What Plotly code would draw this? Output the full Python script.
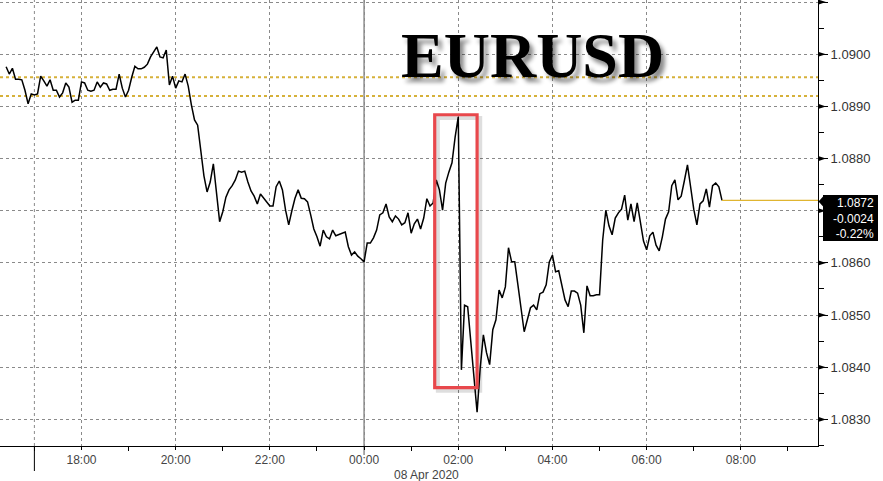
import pandas as pd
import plotly.graph_objects as go

# ---------------- data ----------------
start_time = "2020-04-07 16:24"
sample_freq = "4min"
prices = [
    1.08976, 1.08962, 1.08973, 1.08952, 1.08952, 1.08951, 1.08931, 1.08905, 1.08924, 1.08922,
    1.08924, 1.08958, 1.08949, 1.08939, 1.08951, 1.08931, 1.08931, 1.08918, 1.08926, 1.08945,
    1.08937, 1.08908, 1.08912, 1.08912, 1.08947, 1.08945, 1.08931, 1.08929, 1.08931, 1.08947,
    1.08937, 1.08945, 1.08943, 1.08931, 1.08933, 1.08933, 1.08962, 1.08935, 1.08918, 1.08931,
    1.08956, 1.08977, 1.08972, 1.08972, 1.08975, 1.08981, 1.08995, 1.09004, 1.09014, 1.08995,
    1.08993, 1.09008, 1.08941, 1.08958, 1.08935, 1.08949, 1.08947, 1.08962, 1.08939, 1.08903,
    1.08874, 1.08864, 1.08816, 1.08767, 1.08736, 1.08755, 1.08790, 1.08736, 1.08679, 1.08698,
    1.08726, 1.08740, 1.08748, 1.08759, 1.08776, 1.08774, 1.08776, 1.08755, 1.08738, 1.08728,
    1.08713, 1.08732, 1.08724, 1.08715, 1.08709, 1.08709, 1.08746, 1.08757, 1.08740, 1.08701,
    1.08673, 1.08700, 1.08724, 1.08740, 1.08724, 1.08723, 1.08717, 1.08692, 1.08665, 1.08650,
    1.08632, 1.08663, 1.08650, 1.08646, 1.08663, 1.08652, 1.08654, 1.08657, 1.08659, 1.08631,
    1.08615, 1.08621, 1.08613, 1.08608, 1.08602, 1.08638, 1.08638, 1.08648, 1.08663, 1.08692,
    1.08696, 1.08713, 1.08688, 1.08679, 1.08690, 1.08684, 1.08673, 1.08677, 1.08696, 1.08657,
    1.08675, 1.08684, 1.08665, 1.08686, 1.08723, 1.08709, 1.08715, 1.08759, 1.08740, 1.08701,
    1.08753, 1.08774, 1.08792, 1.08841, 1.08880, 1.08395, 1.08519, 1.08516, 1.08447, 1.08372,
    1.08314, 1.08399, 1.08462, 1.08428, 1.08405, 1.08472, 1.08491, 1.08548, 1.08533, 1.08554,
    1.08629, 1.08602, 1.08602, 1.08558, 1.08510, 1.08468, 1.08491, 1.08514, 1.08519, 1.08510,
    1.08541, 1.08544, 1.08558, 1.08602, 1.08615, 1.08583, 1.08585, 1.08560, 1.08529, 1.08516,
    1.08546, 1.08546, 1.08542, 1.08519, 1.08466, 1.08556, 1.08537, 1.08537, 1.08539, 1.08539,
    1.08644, 1.08701, 1.08671, 1.08654, 1.08686, 1.08696, 1.08703, 1.08730, 1.08682, 1.08713,
    1.08679, 1.08715, 1.08682, 1.08642, 1.08625, 1.08652, 1.08659, 1.08634, 1.08623, 1.08650,
    1.08684, 1.08698, 1.08748, 1.08759, 1.08721, 1.08728, 1.08757, 1.08788, 1.08746, 1.08703,
    1.08673, 1.08713, 1.08719, 1.08742, 1.08707, 1.08748, 1.08753, 1.08746, 1.08720,
]
times = pd.date_range(start_time, periods=len(prices), freq=sample_freq)

level_lines = [1.08956, 1.08920]          # yellow dotted reference levels
last_price = 1.0872
change_labels = ["1.0872", "-0.0024", "-0.22%"]
highlight_box = {"t0": "2020-04-08 01:30", "t1": "2020-04-08 02:24", "p0": 1.08361, "p1": 1.08884}
y_ticks = [1.0830, 1.0840, 1.0850, 1.0860, 1.0870, 1.0880, 1.0890, 1.0900, 1.0910]
y_tick_labels = ["1.0830", "1.0840", "1.0850", "1.0860", "", "1.0880", "1.0890", "1.0900", "1.0910"]  # 1.0870 hidden under price box
session_lines = ["2020-04-07 17:00", "2020-04-08 00:00"]
x_range = ["2020-04-07 16:16:12", "2020-04-08 09:38:18"]
y_range = [1.08249, 1.09104]
title_text = "EURUSD"
date_label = "08 Apr 2020"

# ---------------- layout helpers ----------------
W, H = 818.0, 446.0
def px(x):
    return x / W
def py(y):
    return 1 - y / H

fig = go.Figure()
fig.add_trace(go.Scatter(x=times, y=prices, mode="lines",
                         line=dict(color="black", width=1.5), hoverinfo="skip"))

shapes = []
# yellow dotted levels
for lv in level_lines:
    shapes.append(dict(type="line", xref="paper", yref="y", x0=0, x1=1, y0=lv, y1=lv,
                       line=dict(color="#d6b13a", width=2, dash="dot"), layer="below"))
# last price line
shapes.append(dict(type="line", xref="x", yref="y", x0=times[-1], x1=x_range[1],
                   y0=last_price, y1=last_price, line=dict(color="#e0b530", width=1.3)))
# 17:00 session marker: dotted above, solid stub below axis
shapes.append(dict(type="line", xref="x", yref="paper", x0=session_lines[0], x1=session_lines[0],
                   y0=0, y1=1, line=dict(color="#8a8a8a", width=1, dash="dot"), layer="below"))
shapes.append(dict(type="line", xref="x", yref="paper", x0=session_lines[0], x1=session_lines[0],
                   y0=py(471), y1=0, line=dict(color="black", width=1)))
# midnight solid line
shapes.append(dict(type="line", xref="x", yref="paper", x0=session_lines[1], x1=session_lines[1],
                   y0=py(455), y1=1, line=dict(color="#555555", width=1), layer="below"))
# red highlight box with soft shadow
shift_t = pd.Timedelta(minutes=4)
shift_p = 0.00006
shapes.append(dict(type="rect", xref="x", yref="y",
                   x0=pd.Timestamp(highlight_box["t0"]) + shift_t, x1=pd.Timestamp(highlight_box["t1"]) + shift_t,
                   y0=highlight_box["p0"] - shift_p, y1=highlight_box["p1"] - shift_p,
                   line=dict(color="rgba(0,0,0,0.13)", width=4)))
shapes.append(dict(type="rect", xref="x", yref="y",
                   x0=highlight_box["t0"], x1=highlight_box["t1"],
                   y0=highlight_box["p0"], y1=highlight_box["p1"],
                   line=dict(color="#e8484c", width=3.2)))
# right-axis arrow ticks
d = 2.6 / 52200.0
w = 8.0 / W
for v in y_ticks:
    shapes.append(dict(type="path", xref="paper", yref="y",
                       path=f"M 1,{v + d} L {1 + w},{v} L 1,{v - d} Z",
                       fillcolor="black", line=dict(color="black", width=0)))
# last price box with pointer
shapes.append(dict(type="rect", xref="paper", yref="paper",
                   x0=px(823), x1=px(878), y0=py(241), y1=py(195),
                   fillcolor="black", line=dict(width=0)))
shapes.append(dict(type="path", xref="paper", yref="paper",
                   path=f"M {px(818.5)},{py(201.5)} L {px(824)},{py(195.5)} L {px(824)},{py(207.5)} Z",
                   fillcolor="black", line=dict(width=0)))

annotations = []
# title with soft drop shadow
annotations.append(dict(text=f"<b>{title_text}</b>", xref="paper", yref="paper",
                        x=px(532), y=py(55), xanchor="center", yanchor="middle", showarrow=False,
                        font=dict(family="Liberation Serif", size=64, color="black",
                                  shadow="4px 5px 4px rgba(0,0,0,0.45)")))
# price box text (three lines)
annotations.append(dict(text="<br>".join(change_labels), xref="paper", yref="paper",
                        x=px(876), y=py(218), xanchor="right", yanchor="middle", align="right",
                        showarrow=False,
                        font=dict(family="Liberation Sans", size=12, color="white")))
# date label
annotations.append(dict(text=date_label, xref="paper", yref="paper", x=px(426), y=py(474.5),
                        xanchor="center", yanchor="middle", showarrow=False,
                        font=dict(family="Liberation Sans", size=12, color="#444")))

fig.update_layout(
    width=883, height=481,
    margin=dict(l=0, r=65, t=0, b=35),
    paper_bgcolor="white", plot_bgcolor="white",
    showlegend=False,
    shapes=shapes, annotations=annotations,
    xaxis=dict(type="date", range=x_range, autorange=False,
               tick0="2020-04-07 18:00", dtick=7200000, tickformat="%H:%M",
               showgrid=True, gridcolor="#8a8a8a", gridwidth=1, griddash="dot",
               showline=True, linecolor="black", linewidth=1, mirror=False,
               ticks="outside", ticklen=3, tickcolor="black", tickwidth=1,
               minor=dict(dtick=3600000, ticks="outside", ticklen=4, tickcolor="black", showgrid=False),
               tickfont=dict(family="Liberation Sans", size=12, color="#444"),
               zeroline=False, automargin=False, fixedrange=True),
    yaxis=dict(side="right", range=y_range, autorange=False,
               tickmode="array", tickvals=y_ticks, ticktext=y_tick_labels,
               showgrid=True, gridcolor="#8a8a8a", gridwidth=1, griddash="dot",
               showline=True, linecolor="black", linewidth=1,
               ticks="outside", ticklen=9, tickcolor="black", tickwidth=1,
               minor=dict(dtick=0.0005, tick0=1.0830, ticks="outside", ticklen=5, tickcolor="black", showgrid=False),
               tickfont=dict(family="Liberation Sans", size=13, color="#333"),
               zeroline=False, automargin=False, fixedrange=True),
)

fig.write_html("out.html", config={"displayModeBar": False},
               post_script="document.body.style.margin='0px';document.body.style.overflow='hidden';")
